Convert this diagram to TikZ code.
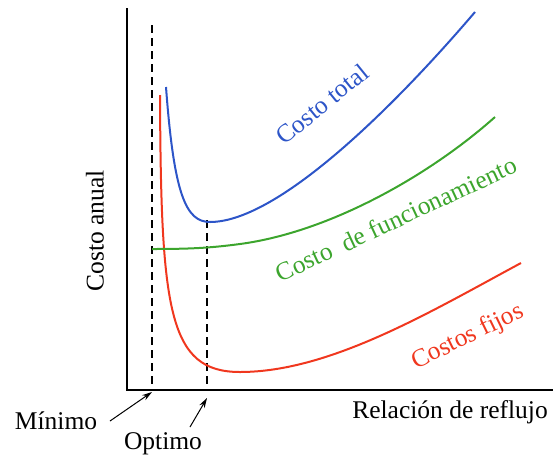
\documentclass[tikz,border=0pt]{standalone}
\usepackage{fontspec}
\setmainfont{Liberation Serif}
\usetikzlibrary{arrows.meta}
\definecolor{cblue}{RGB}{45,85,200}
\definecolor{cgreen}{RGB}{60,165,45}
\definecolor{cred}{RGB}{240,55,30}
\tikzset{
  axis/.style={line width=2.2pt,black},
  guide/.style={line width=2pt,black,dash pattern=on 8pt off 5pt},
  curve/.style={line width=2pt},
  lbl/.style={font=\fontsize{25.5}{27}\selectfont},
  ptr/.style={line width=1pt,-{Stealth[length=10pt,width=6pt]}}
}
\begin{document}
\begin{tikzpicture}[x=1pt,y=-1pt]
\useasboundingbox (0,0) rectangle (553,461);
% axes
\coordinate (top) at (127,8);
\coordinate (org) at (127,390);
\coordinate (right) at (553,390);
\draw[axis] (top) -- (org) -- (right);
% guides
\coordinate (minT) at (152,25);
\coordinate (minB) at (152,390);
\coordinate (optT) at (207,220);
\coordinate (optB) at (207,390);
\draw[guide] (minT) -- (minB);
\draw[guide] (optT) -- (optB);
% curves
\draw[curve,cred] (160,95) .. controls (161,310) and (168,372) .. (240,372)
  .. controls (330,372) and (430,312) .. (521,263);
\draw[curve,cblue] (166,87) .. controls (174,195) and (186,222) .. (210,222)
  .. controls (280,222) and (400,100) .. (475,12);
\draw[curve,cgreen] (152,249) .. controls (190,249) and (210,248) .. (240,244)
  .. controls (330,232) and (430,175) .. (495,117);
% labels
\node[lbl,text=cblue,rotate=39] (lt) at (322,104) {Costo total};
\node[lbl,text=cgreen,rotate=25] (lf) at (396,219) {Costo\ \ de funcionamiento};
\node[lbl,text=cred,rotate=26] (lr) at (468,337) {Costos fijos};
\node[lbl,rotate=90] (ly) at (95,231) {Costo anual};
\node[lbl] (lx) at (450,412) {Relación de reflujo};
\node[lbl] (lmin) at (56,421) {Mínimo};
\node[lbl] (lopt) at (163,444) {Optimo};
% pointers
\coordinate (pminA) at (110,421);
\coordinate (pminB) at (152,392);
\coordinate (poptA) at (190,427);
\coordinate (poptB) at (207,398);
\draw[ptr] (pminA) -- (pminB);
\draw[ptr] (poptA) -- (poptB);
\end{tikzpicture}
\end{document}
